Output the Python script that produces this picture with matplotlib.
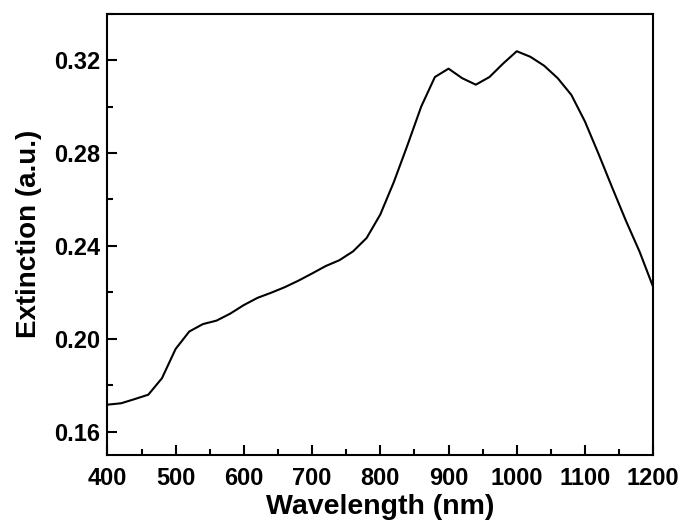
import matplotlib
matplotlib.use("Agg")
import matplotlib.pyplot as plt
from matplotlib.ticker import MultipleLocator

plt.rcParams["font.family"] = ["Liberation Sans", "DejaVu Sans"]
plt.rcParams["font.weight"] = "bold"

# extinction spectrum
wavelength = [400, 420, 440, 460, 480, 500, 520, 540, 560, 580,
              600, 620, 640, 660, 680, 700, 720, 740, 760, 780,
              800, 820, 840, 860, 880, 900, 920, 940, 960, 980,
              1000, 1020, 1040, 1060, 1080, 1100, 1120, 1140, 1160, 1180,
              1200]
extinction = [0.1716, 0.1722, 0.1740, 0.1759, 0.1830, 0.1956, 0.2031, 0.2063, 0.2078, 0.2108,
              0.2145, 0.2176, 0.2198, 0.2222, 0.2250, 0.2281, 0.2313, 0.2338, 0.2376, 0.2434,
              0.2535, 0.2676, 0.2835, 0.3000, 0.3127, 0.3163, 0.3122, 0.3094, 0.3127, 0.3185,
              0.3238, 0.3214, 0.3176, 0.3122, 0.3050, 0.2935, 0.2795, 0.2650, 0.2508, 0.2375,
              0.2222]

fig = plt.figure(figsize=(6.84, 5.24), dpi=100)
ax = fig.add_axes([0.157, 0.132, 0.798, 0.842])
ax.plot(wavelength, extinction, color="black", linewidth=1.5)

ax.set_xlim(400, 1200)
ax.set_ylim(0.15, 0.34)
ax.xaxis.set_major_locator(MultipleLocator(100))
ax.xaxis.set_minor_locator(MultipleLocator(50))
ax.yaxis.set_minor_locator(MultipleLocator(0.02))
ax.set_yticks([0.16, 0.20, 0.24, 0.28, 0.32])
ax.yaxis.set_major_formatter(plt.FormatStrFormatter("%.2f"))

ax.tick_params(which="both", direction="in", width=1.5, labelsize=17)
ax.tick_params(which="major", length=7)
ax.tick_params(which="minor", length=4.5)
ax.tick_params(axis="x", which="major", pad=9)
ax.tick_params(axis="y", which="major", pad=5)
for spine in ax.spines.values():
    spine.set_linewidth(1.5)

ax.set_xlabel("Wavelength (nm)", fontsize=20.5, fontweight="bold", labelpad=3)
ax.set_ylabel("Extinction (a.u.)", fontsize=20, fontweight="bold", labelpad=9)

fig.savefig("out.png", dpi=100)
